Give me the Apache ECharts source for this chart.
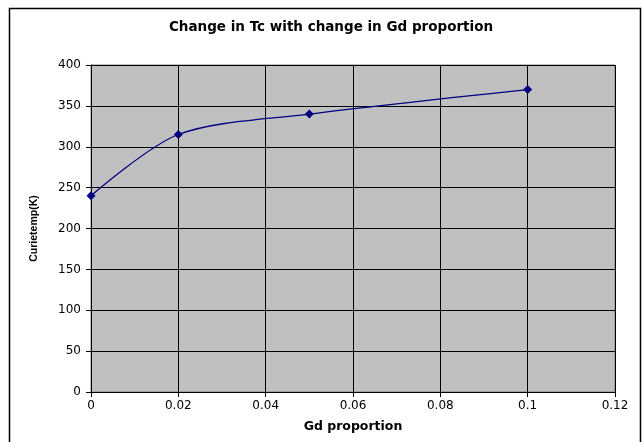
<!DOCTYPE html>
<html>
<head>
<meta charset="utf-8">
<script src="https://cdn.jsdelivr.net/npm/echarts@6/dist/echarts.min.js"></script>
<style>
  html, body { margin: 0; padding: 0; background: #fff; }
  #chart { width: 642px; height: 442px; }
</style>
</head>
<body>
<div id="chart"></div>
<script>
// Curie temperature against Gd proportion
const gdProportion = [0, 0.02, 0.05, 0.1];
const curieTemp = [240, 315, 340, 370];

const xTicks = { min: 0, max: 0.12, interval: 0.02 };
const yTicks = { min: 0, max: 400, interval: 50 };

const chart = echarts.init(document.getElementById('chart'), null, { renderer: 'canvas' });
const font = 'DejaVu Sans, Verdana, sans-serif';
const narrow = 'Liberation Sans, Arial, sans-serif';

chart.setOption({
  animation: false,
  backgroundColor: '#ffffff',
  title: {
    text: 'Change in Tc with change in Gd proportion',
    left: 326, top: 15, textAlign: 'center',
    textStyle: { fontFamily: font, fontSize: 13.5, fontWeight: 'bold', color: '#000' }
  },
  graphic: [{
    type: 'rect',
    shape: { x: 9.5, y: 8.5, width: 631, height: 450 },
    style: { fill: 'none', stroke: '#000', lineWidth: 1.5 },
    silent: true
  }],
  grid: {
    left: 91, right: 27, top: 65, bottom: 50,
    show: true, backgroundColor: '#c0c0c0', borderColor: '#808080', borderWidth: 1
  },
  xAxis: {
    type: 'value',
    min: xTicks.min, max: xTicks.max, interval: xTicks.interval,
    name: 'Gd proportion', nameLocation: 'middle', nameGap: 28,
    nameTextStyle: { fontFamily: font, fontSize: 12.5, fontWeight: 'bold', color: '#000' },
    axisLine: { show: true, lineStyle: { color: '#000', width: 1 } },
    axisTick: { show: true, inside: false, length: 5, lineStyle: { color: '#000' } },
    axisLabel: { fontFamily: font, fontSize: 12, color: '#000', margin: 8 },
    splitLine: { show: true, lineStyle: { color: '#000', width: 1 } }
  },
  yAxis: {
    type: 'value',
    min: yTicks.min, max: yTicks.max, interval: yTicks.interval,
    name: 'Curietemp(K)', nameLocation: 'middle', nameGap: 51, nameRotate: 90,
    nameTextStyle: { fontFamily: narrow, fontSize: 10.5, fontWeight: 'bold', color: '#000' },
    axisLine: { show: true, lineStyle: { color: '#000', width: 1 } },
    axisTick: { show: true, inside: false, length: 5, lineStyle: { color: '#000' } },
    axisLabel: { fontFamily: font, fontSize: 12, color: '#000', margin: 10 },
    splitLine: { show: true, lineStyle: { color: '#000', width: 1 } }
  },
  series: [{
    type: 'line',
    data: gdProportion.map((x, i) => [x, curieTemp[i]]),
    smooth: 0.3,
    symbol: 'diamond',
    symbolSize: 9,
    itemStyle: { color: '#000080' },
    lineStyle: { color: '#000080', width: 1.3 }
  }]
});
</script>
</body>
</html>
